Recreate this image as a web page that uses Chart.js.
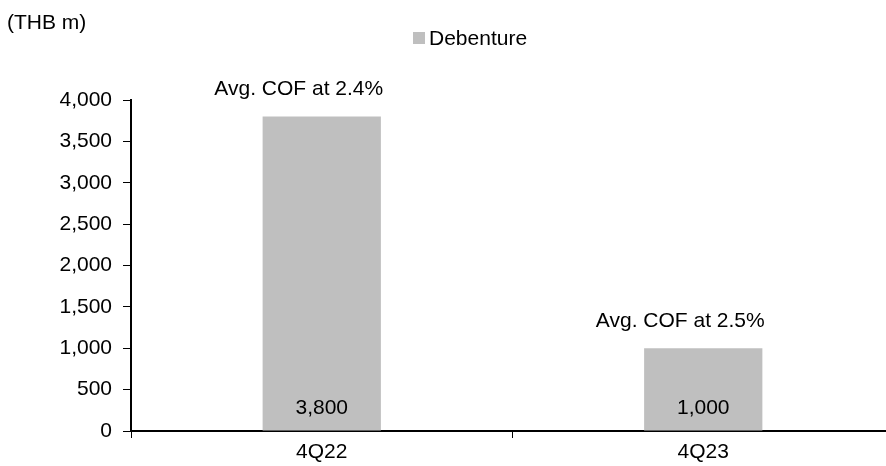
<!DOCTYPE html>
<html>
<head>
<meta charset="utf-8">
<script src="https://cdn.jsdelivr.net/npm/chart.js@4.4.1/dist/chart.umd.min.js"></script>
<style>
  html, body { margin: 0; padding: 0; background: #fff; overflow: hidden; }
  #wrap { width: 894px; height: 466px; }
</style>
</head>
<body>
<div id="wrap"><canvas id="chart"></canvas></div>
<script>
(function () {
    "use strict";

    // Data
    const categories = ["4Q22", "4Q23"];
    const debenture = [3800, 1000];
    const cofNotes = ["Avg. COF at 2.4%", "Avg. COF at 2.5%"];
    const unitLabel = "(THB m)";
    const seriesName = "Debenture";

    const FONT = "'Liberation Sans', Arial, sans-serif";
    const FONT_SIZE = 21;
    const BAR = "#bfbfbf";

    // Labels drawn on/above the bars, plus the unit title and the legend
    const labelsPlugin = {
        id: "labels",
        afterDatasetsDraw(chart) {
            const ctx = chart.ctx;
            const meta = chart.getDatasetMeta(0);
            ctx.save();
            ctx.font = FONT_SIZE + "px " + FONT;
            ctx.fillStyle = "#000";
            ctx.textAlign = "center";
            ctx.textBaseline = "middle";
            meta.data.forEach((bar, i) => {
                ctx.fillText(debenture[i].toLocaleString("en-US"), bar.x, bar.base - 22);
                // notes sit a little left of the bar centre
                ctx.fillText(cofNotes[i], bar.x - 23, bar.y - 27);
            });

            ctx.textAlign = "left";
            ctx.fillText(unitLabel, 7, 23);

            ctx.fillStyle = BAR;
            ctx.fillRect(413, 32, 12, 12);
            ctx.fillStyle = "#000";
            ctx.fillText(seriesName, 429, 39);
            ctx.restore();
        },
    };

    new Chart(document.getElementById("chart"), {
        type: "bar",
        data: {
            labels: categories,
            datasets: [
                {
                    label: seriesName,
                    data: debenture,
                    backgroundColor: BAR,
                    borderWidth: 0,
                    categoryPercentage: 1,
                    barPercentage: 0.31,
                },
            ],
        },
        options: {
            responsive: true,
            maintainAspectRatio: false,
            animation: false,
            layout: { padding: { top: 100, right: 0, left: 0, bottom: 0 } },
            plugins: {
                legend: { display: false },
                tooltip: { enabled: false },
            },
            scales: {
                x: {
                    afterFit: (s) => { s.height = 35; },
                    grid: {
                        drawOnChartArea: false,
                        drawTicks: true,
                        tickLength: 7,
                        color: "#000",
                        lineWidth: 1,
                    },
                    border: { color: "#000", width: 2 },
                    ticks: {
                        color: "#000",
                        font: { family: FONT, size: FONT_SIZE },
                        padding: 2,
                    },
                },
                y: {
                    min: 0,
                    max: 4000,
                    afterFit: (s) => { s.width = 131; },
                    grid: {
                        drawOnChartArea: false,
                        drawTicks: true,
                        tickLength: 8,
                        color: "#000",
                        lineWidth: 1,
                    },
                    border: { color: "#000", width: 2 },
                    ticks: {
                        stepSize: 500,
                        color: "#000",
                        padding: 11,
                        font: { family: FONT, size: FONT_SIZE },
                        callback: (v) => v.toLocaleString("en-US"),
                    },
                },
            },
        },
        plugins: [labelsPlugin],
    });
})();
</script>
</body>
</html>
